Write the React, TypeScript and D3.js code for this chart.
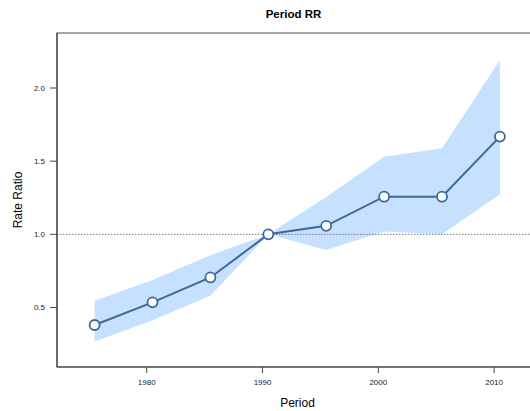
import React from "react";
import * as d3 from "d3";

const periods = [1975.5, 1980.5, 1985.5, 1990.5, 1995.5, 2000.5, 2005.5, 2010.5];
const rateRatio = [0.38, 0.535, 0.705, 1.0, 1.058, 1.257, 1.257, 1.668];
const lowerCI = [0.267, 0.412, 0.58, 1.0, 0.893, 1.02, 1.0, 1.273];
const upperCI = [0.545, 0.688, 0.856, 1.0, 1.255, 1.53, 1.588, 2.19];
const xTicks = [1980, 1990, 2000, 2010];
const yTicks = [0.5, 1.0, 1.5, 2.0];

const W = 530;
const H = 411;
const margin = { top: 33, right: 0, bottom: 44, left: 57 };
const FONT = "'Liberation Sans', Arial, Helvetica, sans-serif";

const App: React.FC = () => {
  const innerW = W - margin.left - margin.right;
  const innerH = H - margin.top - margin.bottom;

  const x = d3.scaleLinear().domain([1972.25, 2013.1]).range([0, innerW]);
  const y = d3.scaleLinear().domain([0.093, 2.376]).range([innerH, 0]);

  const rows = periods.map((p, i) => ({
    p,
    v: rateRatio[i],
    lo: lowerCI[i],
    hi: upperCI[i],
  }));

  const band = d3
    .area<(typeof rows)[number]>()
    .x((d) => x(d.p))
    .y0((d) => y(d.lo))
    .y1((d) => y(d.hi));

  const line = d3
    .line<(typeof rows)[number]>()
    .x((d) => x(d.p))
    .y((d) => y(d.v));

  const lineColor = "#3c6a98";

  return (
    <svg
      width={W}
      height={H}
      style={{ position: "absolute", left: 0, top: 0, background: "#fff" }}
      fontFamily={FONT}
    >
      <text x={293.5} y={18} textAnchor="middle" fontSize={11.5} fontWeight="bold" fill="#000">
        Period RR
      </text>
      <g transform={`translate(${margin.left},${margin.top})`}>
        <rect x={0} y={0} width={innerW + 20} height={innerH} fill="none" stroke="#8a8a8a" strokeWidth={1.5} />
        <path d={band(rows) ?? ""} fill="#c6e0ff" stroke="none" />
        <line
          x1={0}
          x2={innerW}
          y1={y(1)}
          y2={y(1)}
          stroke="#777"
          strokeWidth={1}
          strokeDasharray="1.5,1.5"
        />
        <path d={line(rows) ?? ""} fill="none" stroke={lineColor} strokeWidth={2} />
        {rows.map((d, i) => (
          <circle
            key={i}
            cx={x(d.p)}
            cy={y(d.v)}
            r={5}
            fill="#fff"
            stroke={lineColor}
            strokeWidth={1.8}
          />
        ))}
        {/* axes */}
        <line x1={0} x2={0} y1={0} y2={innerH} stroke="#444" strokeWidth={1.2} />
        <line x1={0} x2={innerW} y1={innerH} y2={innerH} stroke="#444" strokeWidth={1.2} />
        {yTicks.map((t) => (
          <g key={t} transform={`translate(0,${y(t)})`}>
            <line x1={-7} x2={0} stroke="#444" strokeWidth={1} />
            <text x={-12} dy="0.32em" textAnchor="end" fontSize={8} fill="#222">
              {t.toFixed(1)}
            </text>
          </g>
        ))}
        {xTicks.map((t) => (
          <g key={t} transform={`translate(${x(t)},${innerH})`}>
            <line y1={0} y2={6} stroke="#444" strokeWidth={1} />
            <text y={18} textAnchor="middle" fontSize={8} fill="#222">
              {t}
            </text>
          </g>
        ))}
      </g>
      <text x={297.5} y={407} textAnchor="middle" fontSize={12} fill="#000">
        Period
      </text>
      <text
        transform={`translate(22,200) rotate(-90)`}
        textAnchor="middle"
        fontSize={12}
        fill="#000"
      >
        Rate Ratio
      </text>
    </svg>
  );
};

export default App;
